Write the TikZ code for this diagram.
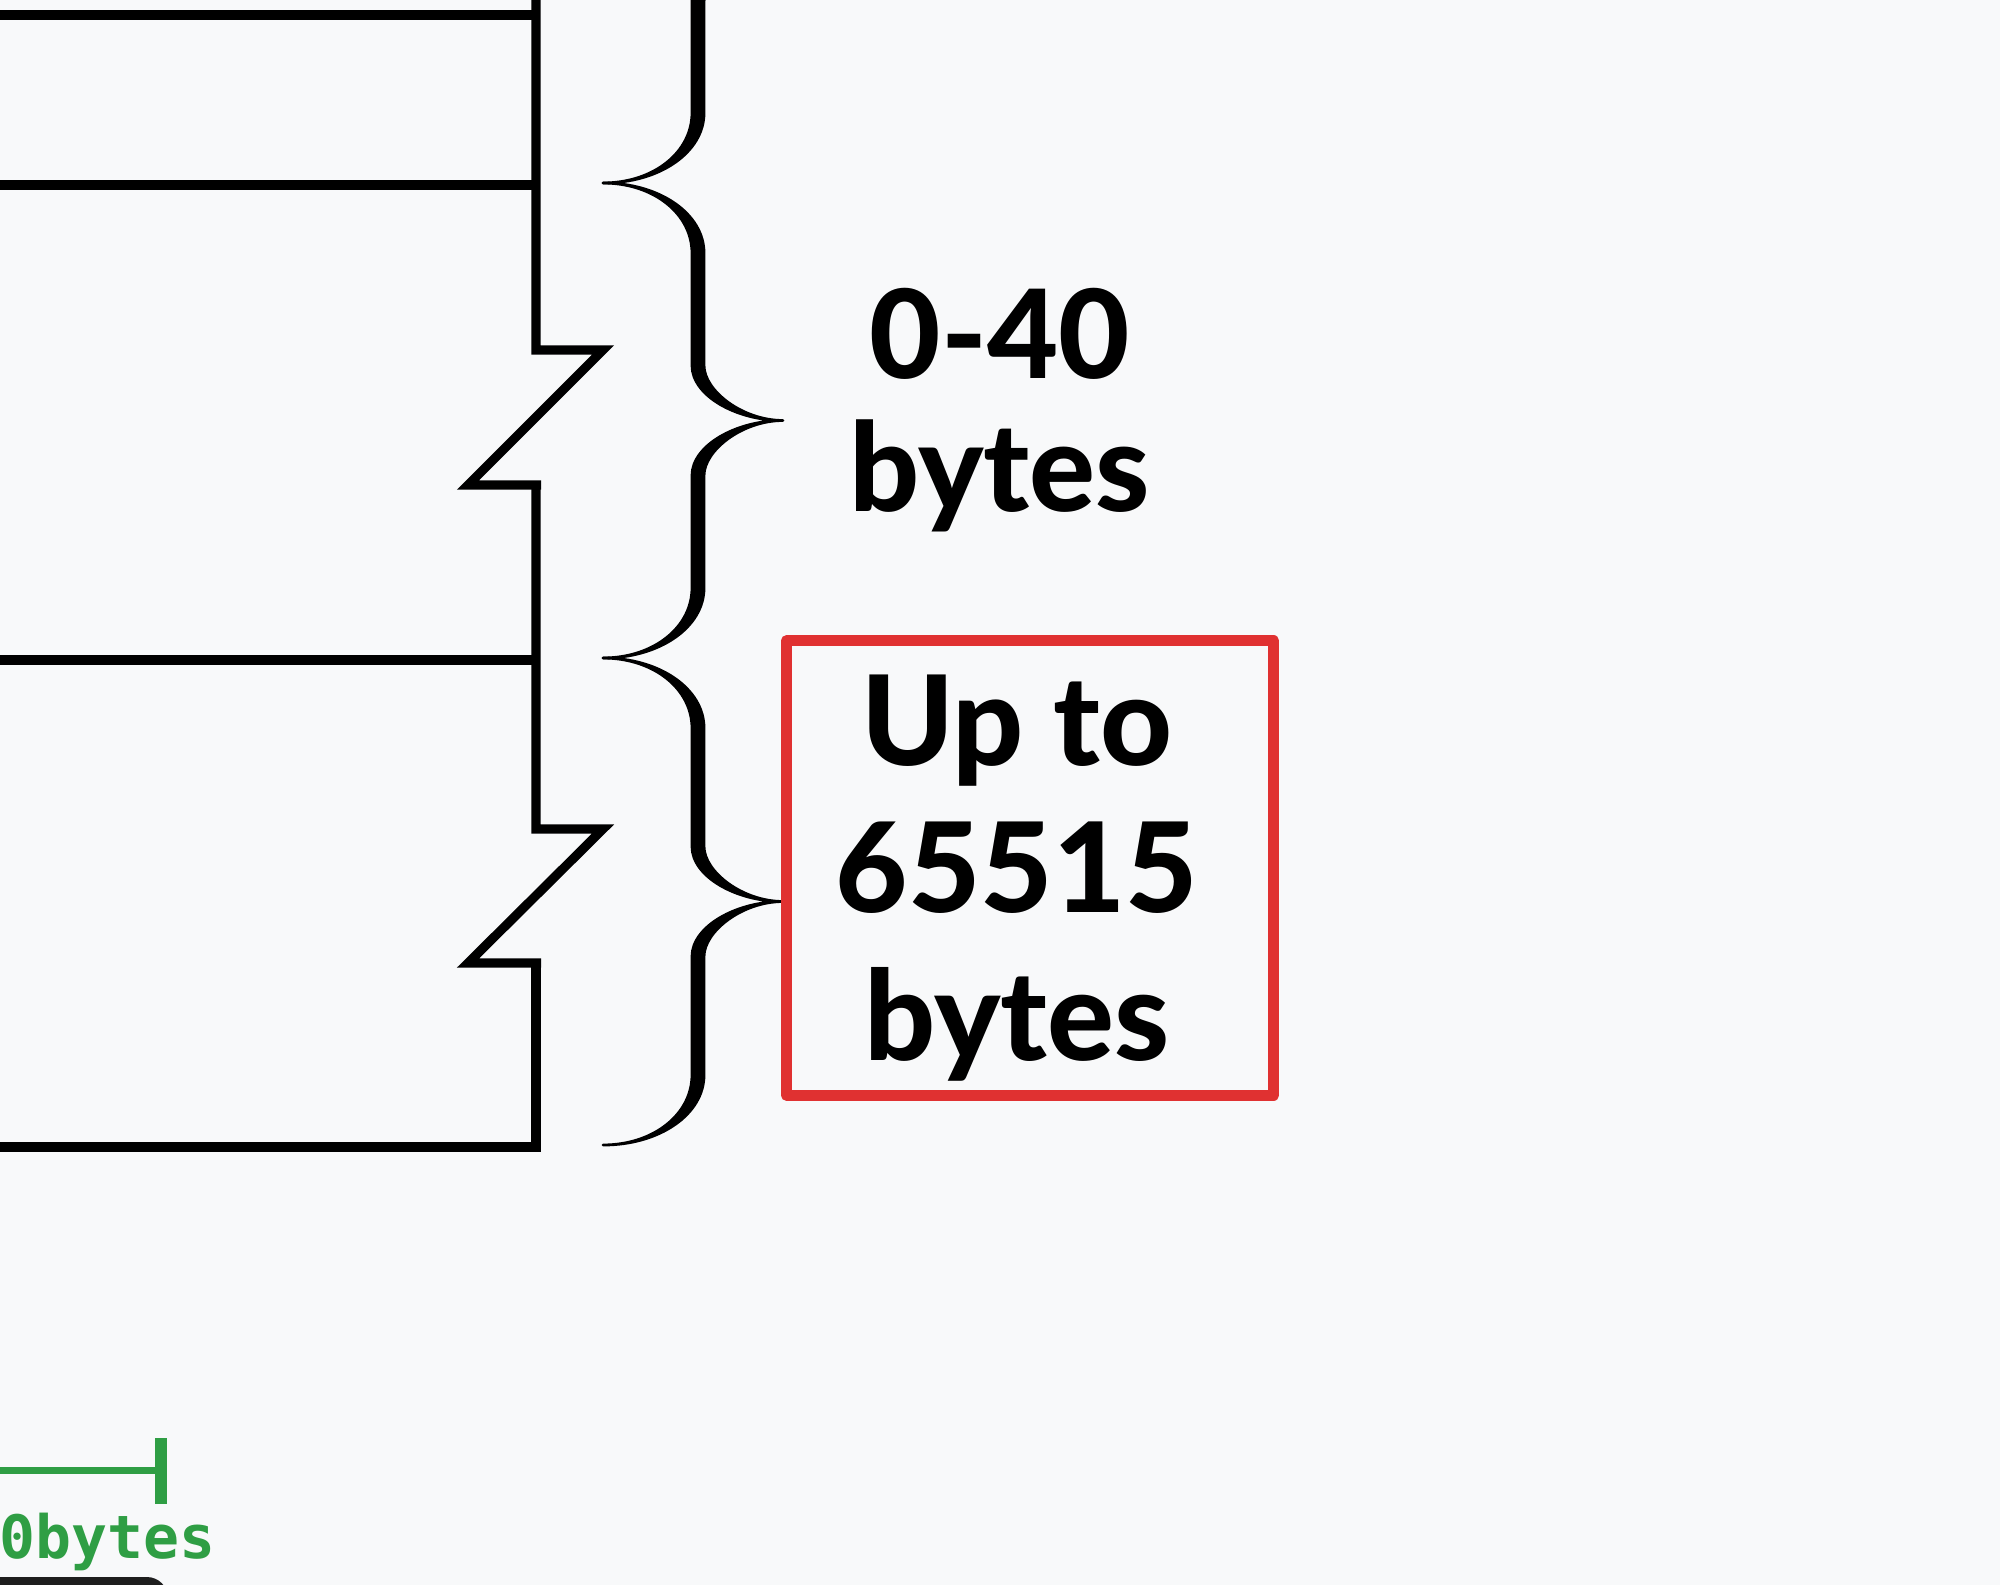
\documentclass[tikz,border=0pt]{standalone}
\usepackage{fontspec}
\setmainfont{Lato}[BoldFont={Lato Heavy}]
\setmonofont{DejaVu Sans Mono}
\usepackage{tikz}

\definecolor{canvas}{HTML}{F8F9FA}
\definecolor{boxred}{HTML}{E03131}
\definecolor{bargreen}{HTML}{2F9E44}
\definecolor{bardark}{HTML}{1E1E1E}

\tikzset{
  wall/.style={line width=2.6pt, line join=miter},
  sizelabel/.style={align=center, inner sep=0pt,
    font=\bfseries\fontsize{35pt}{38pt}\selectfont},
  limitbox/.style={draw=boxred, line width=3.1pt, line join=round,
    minimum width=4.87cm, minimum height=4.54cm},
  scalebar/.style={draw=bargreen, line width=2pt}
}

% curly brace with thick stems, tips thin; #1 top end, #2 bottom end
\newcommand{\bytebrace}[2]{%
  \pgfmathsetmacro{\bym}{(#1+#2)/2}%
  \path[fill=black, draw=black, line width=0.8pt, line join=round]
    (603,#1) .. controls (654,#1) and (692,#1+31) .. (692,#1+70)
    -- (692,\bym-55) .. controls (692,\bym-25) and (736,\bym) .. (783,\bym)
    .. controls (736,\bym) and (692,\bym+25) .. (692,\bym+55)
    -- (692,#2-70) .. controls (692,#2-31) and (654,#2) .. (603,#2)
    .. controls (660,#2) and (704,#2-31) .. (704,#2-70)
    -- (704,\bym+55) .. controls (704,\bym+30) and (742,\bym) .. (783,\bym)
    .. controls (742,\bym) and (704,\bym-30) .. (704,\bym-55)
    -- (704,#1+70) .. controls (704,#1+31) and (660,#1) .. (603,#1) -- cycle;}

\begin{document}
\begin{tikzpicture}[x=0.01cm, y=-0.01cm]
  \useasboundingbox (0,0) rectangle (2000,1585);
  \fill[canvas] (0,0) rectangle (2000,1585);
  \clip (0,0) rectangle (2000,1585);

  % header rows
  \draw[wall] (0,15) -- (536,15);
  \draw[wall] (0,185) -- (536,185);
  \draw[wall] (0,660) -- (536,660);
  \draw[wall] (536,-10) -- (536,350) -- (603,350) -- (468,485) -- (541,485);
  \draw[wall] (536,485) -- (536,829) -- (603,829) -- (468,963) -- (541,963);
  \draw[wall] (536,963) -- (536,1147) -- (-10,1147);

  \bytebrace{-290}{183}
  \bytebrace{183}{658}
  \bytebrace{658}{1145}

  \node[sizelabel] (optlen) at (1000,410) {0-40\\bytes};
  \node[limitbox] (datalen) at (1030,868) {};
  \node[sizelabel, font=\bfseries\fontsize{35.5pt}{42pt}\selectfont]
    (datatext) at (1017,878) {Up to\\65515\\bytes};

  % scale bar
  \draw[scalebar] (-10,1470) -- (159,1470);
  \draw[scalebar, line width=3.4pt] (161,1438) -- (161,1504);
  \node[anchor=base west, inner sep=0pt, text=bargreen,
    font=\ttfamily\bfseries\fontsize{17pt}{18pt}\selectfont] (zerolabel) at (-1,1558) {0bytes};
  \fill[bardark, rounded corners=6pt] (-30,1577) rectangle (168,1640);
\end{tikzpicture}
\end{document}
